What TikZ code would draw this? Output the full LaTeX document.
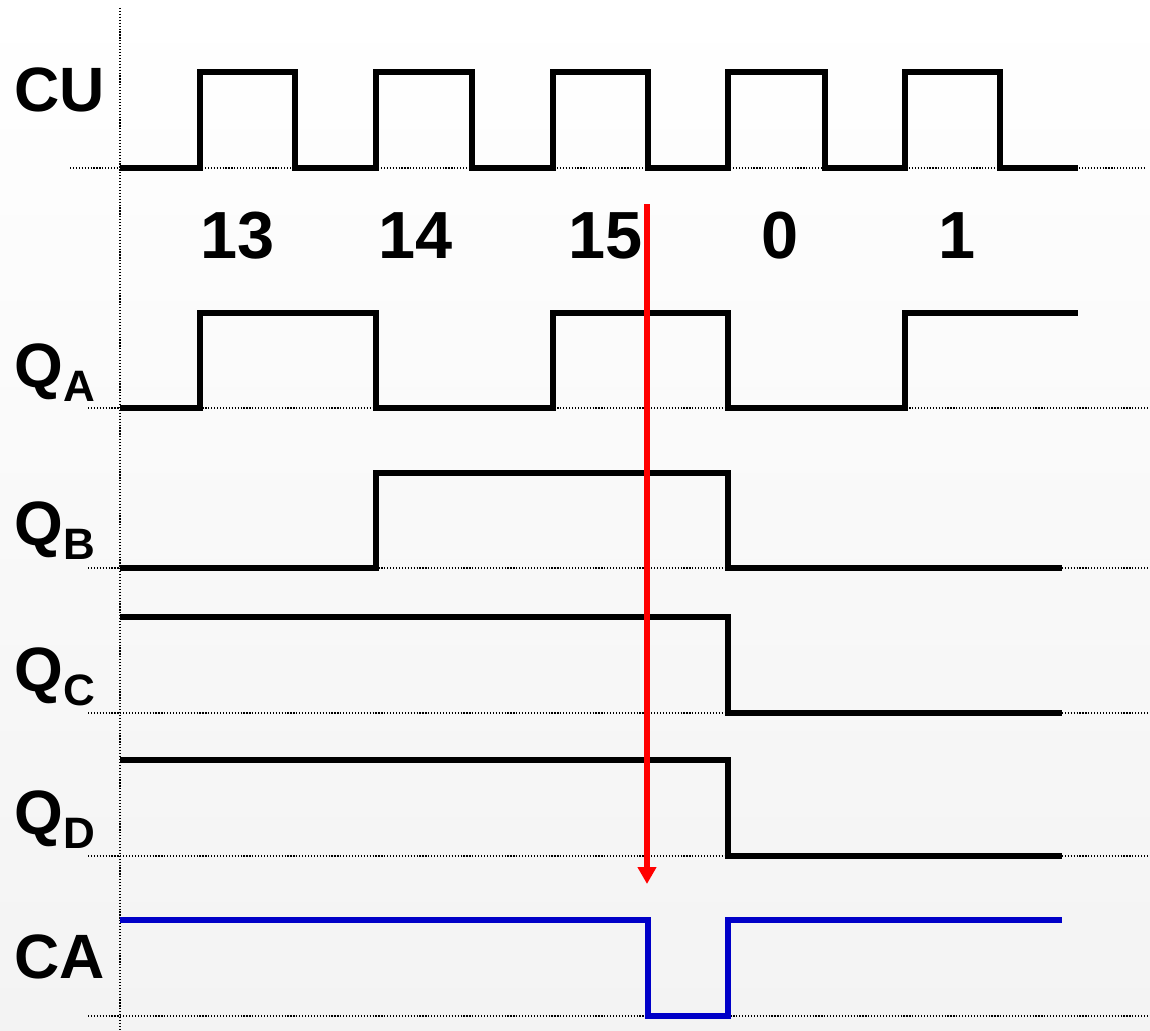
\documentclass[tikz,border=0pt]{standalone}
\usepackage{fontspec}
\setmainfont{Liberation Sans}
\usetikzlibrary{arrows.meta}
\definecolor{cablue}{RGB}{0,0,200}
\definecolor{bgbottom}{RGB}{243,243,243}
\tikzset{
  wave/.style={line width=4.3pt, line join=miter},
  guide/.style={line width=0.9pt, dash pattern=on 0.9pt off 1.3pt},
  lbl/.style={anchor=base west, inner sep=0pt, font=\bfseries\fontsize{47}{47}\selectfont},
  num/.style={anchor=base, inner sep=0pt, font=\bfseries\fontsize{50}{50}\selectfont},
}
\newcommand{\sigsub}[2]{#1{\fontsize{33}{33}\selectfont\raisebox{-11pt}{#2}}}
\begin{document}
\begin{tikzpicture}[x=0.75pt,y=-0.75pt]
\shade[top color=white, bottom color=bgbottom] (0,0) rectangle (1150,1031);
\useasboundingbox (0,0) rectangle (1150,1031);
% guides
\draw[guide] (120,8) -- (120,1031);
\draw[guide] (70,168) -- (1145,168);
\foreach \y in {408,568,713,856,1016} \draw[guide] (88,\y) -- (1150,\y);
% labels
\node[lbl] (lcu) at (14,112) {CU};
\node[lbl] (lqa) at (14,387) {\sigsub{Q}{A}};
\node[lbl] (lqb) at (14,545) {\sigsub{Q}{B}};
\node[lbl] (lqc) at (14,691) {\sigsub{Q}{C}};
\node[lbl] (lqd) at (14,834) {\sigsub{Q}{D}};
\node[lbl] (lca) at (14,978) {CA};
% numbers
\node[num] (n13) at (238,258) {13};
\node[num] (n14) at (416,258) {14};
\node[num] (n15) at (606,258) {15};
\node[num] (n0) at (780,258) {0};
\node[num] (n1) at (957,258) {1};
% CU
\draw[wave] (120,168) -- (200,168) -- (200,72) -- (295,72) -- (295,168) -- (376,168) -- (376,72) -- (472,72) -- (472,168) -- (553,168) -- (553,72) -- (648,72) -- (648,168) -- (728,168) -- (728,72) -- (825,72) -- (825,168) -- (905,168) -- (905,72) -- (1000,72) -- (1000,168) -- (1078,168);
% QA
\draw[wave] (120,408) -- (200,408) -- (200,313) -- (376,313) -- (376,408) -- (553,408) -- (553,313) -- (728,313) -- (728,408) -- (905,408) -- (905,313) -- (1078,313);
% QB
\draw[wave] (120,568) -- (376,568) -- (376,473) -- (728,473) -- (728,568) -- (1062,568);
% QC
\draw[wave] (120,617) -- (728,617) -- (728,713) -- (1062,713);
% QD
\draw[wave] (120,760) -- (728,760) -- (728,856) -- (1062,856);
% CA
\draw[wave, cablue] (120,920) -- (648,920) -- (648,1016) -- (728,1016) -- (728,920) -- (1062,920);
% red arrow
\coordinate (atop) at (647,204);
\coordinate (atip) at (647,884);
\draw[red, line width=3.9pt, -{Triangle[length=12.75pt,width=13.5pt]}] (atop) -- (atip);
\end{tikzpicture}
\end{document}
